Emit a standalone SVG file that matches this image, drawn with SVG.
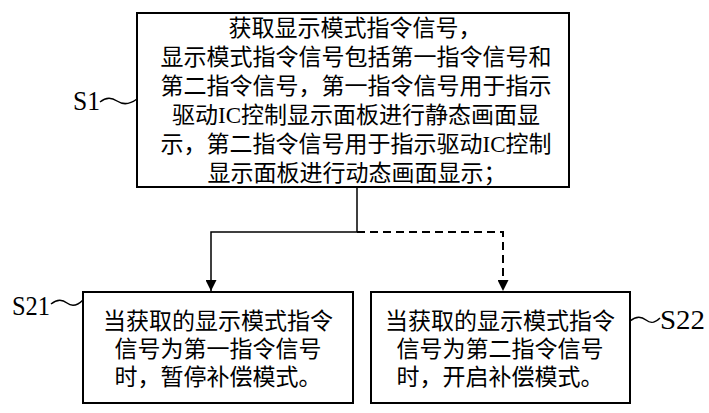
<svg xmlns="http://www.w3.org/2000/svg" width="709" height="413" viewBox="0 0 709 413">
<defs>
<style>
.box{fill:#fff;stroke:#000;stroke-width:2}
.t{font-family:"Liberation Serif","Noto Sans CJK SC",serif;font-size:23px;fill:#000;text-anchor:middle}
.lbl{font-family:"Liberation Serif","Times New Roman",serif;font-size:28px;fill:#000}
.ln{fill:none;stroke:#000;stroke-width:1.5}
.dash{fill:none;stroke:#000;stroke-width:2;stroke-dasharray:8,5}
.tl{fill:none;stroke:#000;stroke-width:1.5}
</style>
<marker id="arr" viewBox="0 0 10 10" refX="10" refY="5" markerWidth="11" markerHeight="11" markerUnits="userSpaceOnUse" orient="auto">
<path d="M0,0 L10,5 L0,10 Z" fill="#000"/>
</marker>
</defs>
<rect width="709" height="413" fill="#fff"/>
<g id="S1">
<rect class="box" x="137" y="13" width="432" height="174"/>
<text class="t"><tspan x="355" y="36">获取显示模式指令信号，</tspan><tspan x="356" y="65">显示模式指令信号包括第一指令信号和</tspan><tspan x="356" y="94">第二指令信号，第一指令信号用于指示</tspan><tspan x="356" y="123">驱动IC控制显示面板进行静态画面显</tspan><tspan x="356" y="152">示，第二指令信号用于指示驱动IC控制</tspan><tspan x="357" y="181">显示面板进行动态画面显示；</tspan></text>
<text class="lbl" x="73" y="110" textLength="27" lengthAdjust="spacingAndGlyphs">S1</text>
<path class="tl" d="M100,102 C106,97 111,97 117,101 S129,105 137,99"/>
</g>
<g id="S21">
<rect class="box" x="83" y="292" width="270" height="111"/>
<text class="t"><tspan x="218" y="329">当获取的显示模式指令</tspan><tspan x="218" y="357">信号为第一指令信号</tspan><tspan x="218" y="385">时，暂停补偿模式。</tspan></text>
<text class="lbl" x="12" y="315" textLength="38" lengthAdjust="spacingAndGlyphs">S21</text>
<path class="tl" d="M51,304 C57,299 62,299 67,303 S77,306 83,300"/>
</g>
<g id="S22">
<rect class="box" x="371" y="292" width="259" height="111"/>
<text class="t"><tspan x="500" y="329">当获取的显示模式指令</tspan><tspan x="500" y="357">信号为第二指令信号</tspan><tspan x="500" y="385">时，开启补偿模式。</tspan></text>
<text class="lbl" x="660" y="329" textLength="45" lengthAdjust="spacingAndGlyphs">S22</text>
<path class="tl" d="M630,321 C636,316 641,316 646,320 S655,323 660,318"/>
</g>
<g id="connectors">
<path class="ln" d="M357,187 V232 H211 V291" marker-end="url(#arr)"/>
<path class="dash" d="M357,232 H503 V291" marker-end="url(#arr)"/>
</g>
</svg>
